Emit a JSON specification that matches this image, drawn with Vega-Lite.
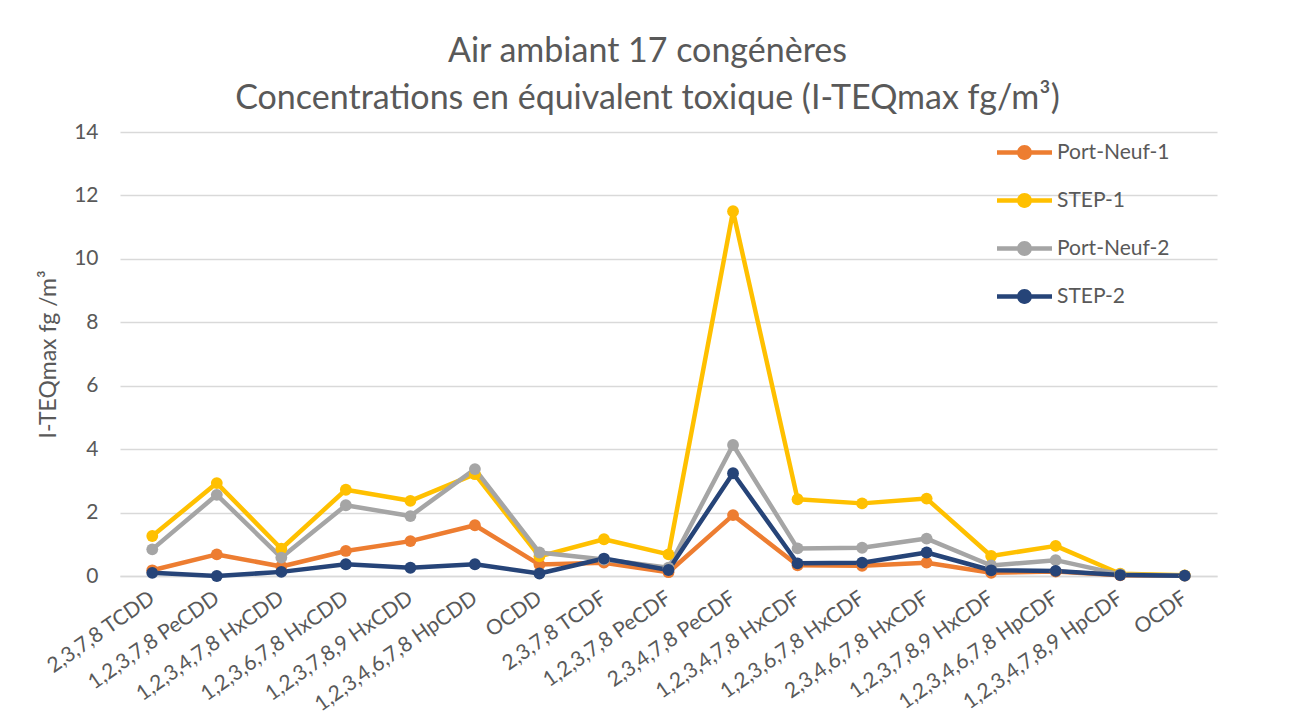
{
  "$schema": "https://vega.github.io/schema/vega-lite/v6.json",
  "autosize": {"type": "none"},
  "width": 1097,
  "height": 444,
  "padding": {"left": 120, "top": 132, "right": 73, "bottom": 144},
  "background": "white",
  "config": {
    "font": "Lato",
    "view": {"stroke": null},
    "axis": {"labelColor": "#595959", "titleColor": "#595959", "labelFont": "Lato", "titleFont": "Lato"}
  },
  "title": {
    "text": ["Air ambiant 17 congénères", "Concentrations en équivalent toxique (I-TEQmax fg/m³)"],
    "fontSize": 34,
    "font": "Lato",
    "fontWeight": "normal",
    "color": "#595959",
    "lineHeight": 47,
    "anchor": "middle",
    "frame": "group",
    "dx": -21,
    "offset": 5
  },
  "data": {
    "values": [
      {"congener": "2,3,7,8 TCDD", "serie": "Port-Neuf-1", "value": 0.18},
      {"congener": "1,2,3,7,8 PeCDD", "serie": "Port-Neuf-1", "value": 0.68},
      {"congener": "1,2,3,4,7,8 HxCDD", "serie": "Port-Neuf-1", "value": 0.3},
      {"congener": "1,2,3,6,7,8 HxCDD", "serie": "Port-Neuf-1", "value": 0.79},
      {"congener": "1,2,3,7,8,9 HxCDD", "serie": "Port-Neuf-1", "value": 1.1},
      {"congener": "1,2,3,4,6,7,8 HpCDD", "serie": "Port-Neuf-1", "value": 1.6},
      {"congener": "OCDD", "serie": "Port-Neuf-1", "value": 0.36},
      {"congener": "2,3,7,8 TCDF", "serie": "Port-Neuf-1", "value": 0.42},
      {"congener": "1,2,3,7,8 PeCDF", "serie": "Port-Neuf-1", "value": 0.12},
      {"congener": "2,3,4,7,8 PeCDF", "serie": "Port-Neuf-1", "value": 1.92},
      {"congener": "1,2,3,4,7,8 HxCDF", "serie": "Port-Neuf-1", "value": 0.34},
      {"congener": "1,2,3,6,7,8 HxCDF", "serie": "Port-Neuf-1", "value": 0.32},
      {"congener": "2,3,4,6,7,8 HxCDF", "serie": "Port-Neuf-1", "value": 0.42},
      {"congener": "1,2,3,7,8,9 HxCDF", "serie": "Port-Neuf-1", "value": 0.1},
      {"congener": "1,2,3,4,6,7,8 HpCDF", "serie": "Port-Neuf-1", "value": 0.14},
      {"congener": "1,2,3,4,7,8,9 HpCDF", "serie": "Port-Neuf-1", "value": 0.02},
      {"congener": "OCDF", "serie": "Port-Neuf-1", "value": 0.01},

      {"congener": "2,3,7,8 TCDD", "serie": "STEP-1", "value": 1.26},
      {"congener": "1,2,3,7,8 PeCDD", "serie": "STEP-1", "value": 2.93},
      {"congener": "1,2,3,4,7,8 HxCDD", "serie": "STEP-1", "value": 0.86},
      {"congener": "1,2,3,6,7,8 HxCDD", "serie": "STEP-1", "value": 2.72},
      {"congener": "1,2,3,7,8,9 HxCDD", "serie": "STEP-1", "value": 2.37},
      {"congener": "1,2,3,4,6,7,8 HpCDD", "serie": "STEP-1", "value": 3.21},
      {"congener": "OCDD", "serie": "STEP-1", "value": 0.62},
      {"congener": "2,3,7,8 TCDF", "serie": "STEP-1", "value": 1.16},
      {"congener": "1,2,3,7,8 PeCDF", "serie": "STEP-1", "value": 0.68},
      {"congener": "2,3,4,7,8 PeCDF", "serie": "STEP-1", "value": 11.5},
      {"congener": "1,2,3,4,7,8 HxCDF", "serie": "STEP-1", "value": 2.42},
      {"congener": "1,2,3,6,7,8 HxCDF", "serie": "STEP-1", "value": 2.29},
      {"congener": "2,3,4,6,7,8 HxCDF", "serie": "STEP-1", "value": 2.44},
      {"congener": "1,2,3,7,8,9 HxCDF", "serie": "STEP-1", "value": 0.63},
      {"congener": "1,2,3,4,6,7,8 HpCDF", "serie": "STEP-1", "value": 0.95},
      {"congener": "1,2,3,4,7,8,9 HpCDF", "serie": "STEP-1", "value": 0.07},
      {"congener": "OCDF", "serie": "STEP-1", "value": 0.02},

      {"congener": "2,3,7,8 TCDD", "serie": "Port-Neuf-2", "value": 0.84},
      {"congener": "1,2,3,7,8 PeCDD", "serie": "Port-Neuf-2", "value": 2.56},
      {"congener": "1,2,3,4,7,8 HxCDD", "serie": "Port-Neuf-2", "value": 0.58},
      {"congener": "1,2,3,6,7,8 HxCDD", "serie": "Port-Neuf-2", "value": 2.23},
      {"congener": "1,2,3,7,8,9 HxCDD", "serie": "Port-Neuf-2", "value": 1.89},
      {"congener": "1,2,3,4,6,7,8 HpCDD", "serie": "Port-Neuf-2", "value": 3.37},
      {"congener": "OCDD", "serie": "Port-Neuf-2", "value": 0.74},
      {"congener": "2,3,7,8 TCDF", "serie": "Port-Neuf-2", "value": 0.52},
      {"congener": "1,2,3,7,8 PeCDF", "serie": "Port-Neuf-2", "value": 0.26},
      {"congener": "2,3,4,7,8 PeCDF", "serie": "Port-Neuf-2", "value": 4.13},
      {"congener": "1,2,3,4,7,8 HxCDF", "serie": "Port-Neuf-2", "value": 0.87},
      {"congener": "1,2,3,6,7,8 HxCDF", "serie": "Port-Neuf-2", "value": 0.89},
      {"congener": "2,3,4,6,7,8 HxCDF", "serie": "Port-Neuf-2", "value": 1.18},
      {"congener": "1,2,3,7,8,9 HxCDF", "serie": "Port-Neuf-2", "value": 0.33},
      {"congener": "1,2,3,4,6,7,8 HpCDF", "serie": "Port-Neuf-2", "value": 0.5},
      {"congener": "1,2,3,4,7,8,9 HpCDF", "serie": "Port-Neuf-2", "value": 0.05},
      {"congener": "OCDF", "serie": "Port-Neuf-2", "value": 0.01},

      {"congener": "2,3,7,8 TCDD", "serie": "STEP-2", "value": 0.1},
      {"congener": "1,2,3,7,8 PeCDD", "serie": "STEP-2", "value": 0.0},
      {"congener": "1,2,3,4,7,8 HxCDD", "serie": "STEP-2", "value": 0.13},
      {"congener": "1,2,3,6,7,8 HxCDD", "serie": "STEP-2", "value": 0.37},
      {"congener": "1,2,3,7,8,9 HxCDD", "serie": "STEP-2", "value": 0.26},
      {"congener": "1,2,3,4,6,7,8 HpCDD", "serie": "STEP-2", "value": 0.37},
      {"congener": "OCDD", "serie": "STEP-2", "value": 0.08},
      {"congener": "2,3,7,8 TCDF", "serie": "STEP-2", "value": 0.55},
      {"congener": "1,2,3,7,8 PeCDF", "serie": "STEP-2", "value": 0.19},
      {"congener": "2,3,4,7,8 PeCDF", "serie": "STEP-2", "value": 3.24},
      {"congener": "1,2,3,4,7,8 HxCDF", "serie": "STEP-2", "value": 0.4},
      {"congener": "1,2,3,6,7,8 HxCDF", "serie": "STEP-2", "value": 0.42},
      {"congener": "2,3,4,6,7,8 HxCDF", "serie": "STEP-2", "value": 0.74},
      {"congener": "1,2,3,7,8,9 HxCDF", "serie": "STEP-2", "value": 0.18},
      {"congener": "1,2,3,4,6,7,8 HpCDF", "serie": "STEP-2", "value": 0.16},
      {"congener": "1,2,3,4,7,8,9 HpCDF", "serie": "STEP-2", "value": 0.03},
      {"congener": "OCDF", "serie": "STEP-2", "value": 0.01}
    ]
  },
  "encoding": {
    "x": {
      "field": "congener",
      "type": "nominal",
      "sort": null,
      "scale": {"type": "point", "padding": 0.5},
      "axis": {
        "title": null,
        "labelAngle": -35,
        "labelAlign": "right",
        "labelBaseline": "middle",
        "labelFontSize": 21,
        "labelPadding": 20,
        "labelLimit": 0,
        "ticks": false,
        "domain": true,
        "domainColor": "#d9d9d9",
        "domainWidth": 1.3,
        "grid": false,
        "labelOverlap": false
      }
    },
    "y": {
      "field": "value",
      "type": "quantitative",
      "scale": {"domain": [0, 14], "nice": false, "zero": true},
      "axis": {
        "title": "I-TEQmax fg /m³",
        "titleFontSize": 23,
        "titleFontWeight": "normal",
        "titlePadding": 13,
        "values": [0, 2, 4, 6, 8, 10, 12, 14],
        "labelFontSize": 21,
        "labelPadding": 22,
        "ticks": false,
        "domain": false,
        "grid": true,
        "gridColor": "#d9d9d9",
        "gridWidth": 1.3
      }
    },
    "color": {
      "field": "serie",
      "type": "nominal",
      "sort": ["Port-Neuf-1", "STEP-1", "Port-Neuf-2", "STEP-2"],
      "scale": {
        "domain": ["Port-Neuf-1", "STEP-1", "Port-Neuf-2", "STEP-2"],
        "range": ["#ED7D31", "#FFC000", "#A5A5A5", "#264478"]
      },
      "legend": {
        "title": null,
        "orient": "none",
        "legendX": 877,
        "legendY": -7,
        "direction": "vertical",
        "labelFontSize": 21,
        "labelColor": "#595959",
        "labelFont": "Lato",
        "labelOffset": 5,
        "rowPadding": 10,
        "symbolType": "M-1,-0.08H1V0.08H-1Z M0.27,0 A0.27,0.27 0 1,1 -0.27,0 A0.27,0.27 0 1,1 0.27,0 Z",
        "symbolSize": 3025,
        "symbolStrokeWidth": 0,
        "symbolOpacity": 1,
        "encode": {
          "symbols": {
            "update": {
              "fill": {"scale": "color", "field": "value"},
              "strokeWidth": {"value": 0},
              "opacity": {"value": 1}
            }
          }
        }
      }
    }
  },
  "layer": [
    {"mark": {"type": "line", "strokeWidth": 4.5, "strokeJoin": "round"}},
    {"mark": {"type": "point", "filled": true, "size": 140, "opacity": 1}}
  ]
}
